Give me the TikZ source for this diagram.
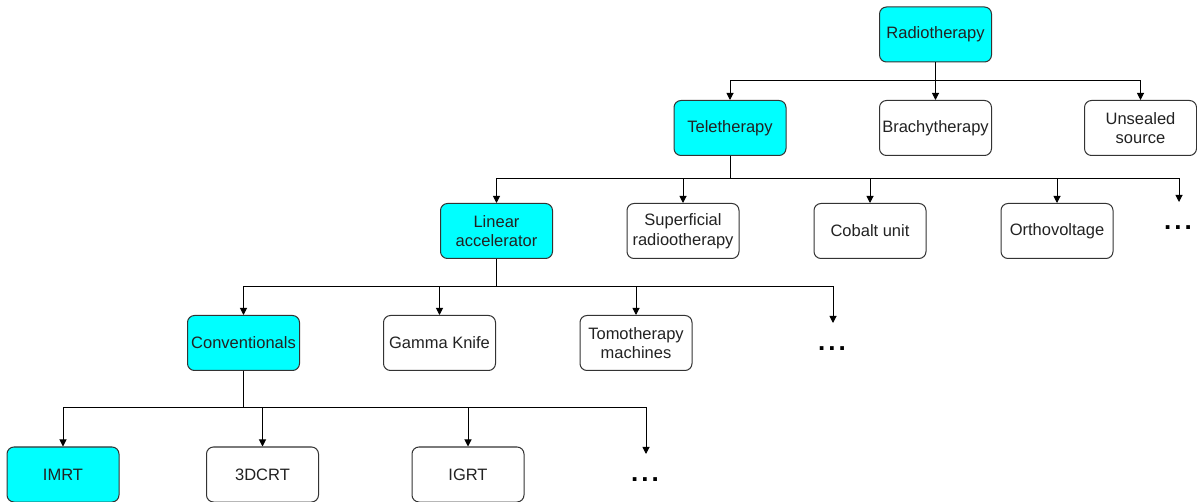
\documentclass[tikz,border=0pt]{standalone}
\usepackage{fontspec}
\setmainfont{Liberation Sans}
\usetikzlibrary{arrows.meta}
\definecolor{boxline}{HTML}{333333}
\definecolor{boxtext}{HTML}{222222}
\definecolor{hilite}{HTML}{00FFFF}
\newcommand{\moredots}{.\kern3pt.\kern3pt.}
\begin{document}
\begin{tikzpicture}[x=1pt,y=-1pt,
  box/.style={draw=boxline, line width=1pt, rounded corners=7pt, fill=white,
    minimum width=112pt, minimum height=55pt, inner sep=2pt, align=center,
    text=boxtext, font=\fontsize{16.5}{19.5}\selectfont},
  hot/.style={box, fill=hilite},
  arr/.style={draw=black, line width=1pt, -{Triangle[length=7pt,width=7pt]}},
  more/.style={inner sep=0pt, font=\fontsize{26}{28}\selectfont\bfseries, text=black}
]
\useasboundingbox (0,0) rectangle (1197,502);

% level 0
\node[hot] (radio) at (935.5,34.5) {Radiotherapy};

% level 1
\node[hot] (tele)   at (730,128)    {Teletherapy};
\node[box] (brachy) at (935.5,128)  {Brachytherapy};
\node[box] (unseal) at (1140.5,128) {Unsealed\\source};

% level 2
\node[hot] (linac)  at (496.5,231) {Linear\\accelerator};
\node[box] (superf) at (683,231)   {Superficial\\radiootherapy};
\node[box] (cobalt) at (870,231)   {Cobalt unit};
\node[box] (ortho)  at (1057,231)  {Orthovoltage};
\node[more] (dotsA) at (1178,228)  {\moredots};
\coordinate (endA) at (1179,202);

% level 3
\node[hot] (conv)   at (243.5,343) {Conventionals};
\node[box] (gamma)  at (439.5,343) {Gamma Knife};
\node[box] (tomo)   at (636,343)   {Tomotherapy\\machines};
\node[more] (dotsB) at (832,349)   {\moredots};
\coordinate (endB) at (833,323);

% level 4
\node[hot] (imrt)   at (63,474.5)  {IMRT};
\node[box] (dcrt)   at (262.5,474.5) {3DCRT};
\node[box] (igrt)   at (468,474.5) {IGRT};
\node[more] (dotsC) at (645,480)   {\moredots};
\coordinate (endC) at (646,454);

% connectors
\foreach \c in {tele,brachy,unseal}
  \draw[arr] (radio.south) -- (radio.south |- 0,81) -| (\c.north);

\foreach \c in {linac,superf,cobalt,ortho}
  \draw[arr] (tele.south) -- (tele.south |- 0,179) -| (\c.north);
\draw[arr] (tele.south) -- (tele.south |- 0,179) -| (endA);

\foreach \c in {conv,gamma,tomo}
  \draw[arr] (linac.south) -- (linac.south |- 0,287) -| (\c.north);
\draw[arr] (linac.south) -- (linac.south |- 0,287) -| (endB);

\foreach \c in {imrt,dcrt,igrt}
  \draw[arr] (conv.south) -- (conv.south |- 0,408) -| (\c.north);
\draw[arr] (conv.south) -- (conv.south |- 0,408) -| (endC);
\end{tikzpicture}
\end{document}
